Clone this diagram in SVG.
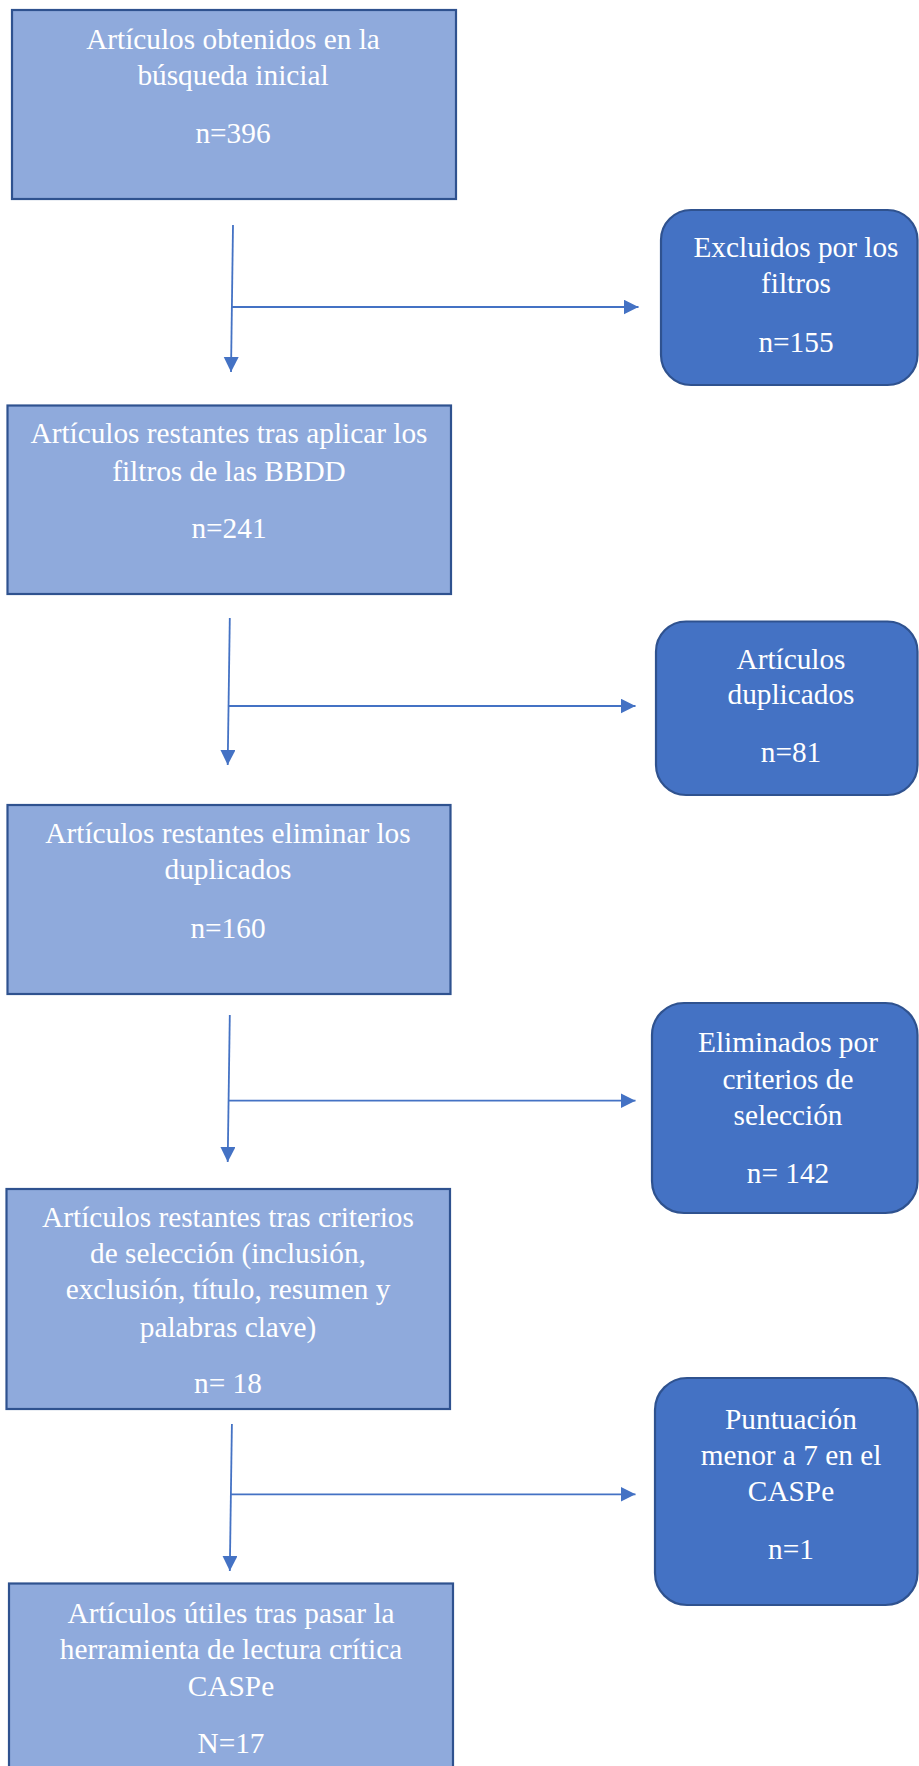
<svg xmlns="http://www.w3.org/2000/svg" width="919" height="1766" viewBox="0 0 919 1766">
<style>
.box{fill:#8FAADC;stroke:#2F528F;stroke-width:2.2}
.rbox{fill:#4472C4;stroke:#2F528F;stroke-width:2.2}
.t{font-family:"Liberation Serif","Times New Roman",serif;font-size:29.3px;fill:#FFFFFF;text-anchor:middle}
.c{stroke:#4472C4;stroke-width:1.8;fill:none}
</style>
<defs>
<marker id="ah" markerUnits="userSpaceOnUse" markerWidth="16" markerHeight="16" viewBox="0 0 16 16" refX="15" refY="7.5" orient="auto">
<path d="M0,0 L15,7.5 L0,15 z" fill="#4472C4"/>
</marker>
</defs>
<rect width="919" height="1766" fill="#FFFFFF"/>
<g id="connectors">
<line class="c" x1="233" y1="225" x2="231" y2="372" marker-end="url(#ah)"/>
<line class="c" x1="232" y1="307" x2="638.5" y2="307" marker-end="url(#ah)"/>
<line class="c" x1="229.8" y1="618" x2="227.7" y2="765" marker-end="url(#ah)"/>
<line class="c" x1="229" y1="706" x2="635.5" y2="706" marker-end="url(#ah)"/>
<line class="c" x1="229.8" y1="1015" x2="227.7" y2="1162" marker-end="url(#ah)"/>
<line class="c" x1="229" y1="1100.7" x2="635.5" y2="1100.7" marker-end="url(#ah)"/>
<line class="c" x1="231.9" y1="1424" x2="229.8" y2="1571" marker-end="url(#ah)"/>
<line class="c" x1="231" y1="1494.3" x2="635.5" y2="1494.3" marker-end="url(#ah)"/>
</g>
<g id="n1">
<rect class="box" x="12" y="10" width="444" height="189"/>
<text class="t" x="233" y="49">Artículos obtenidos en la</text>
<text class="t" x="233" y="85">búsqueda inicial</text>
<text class="t" x="233" y="143">n=396</text>
</g>
<g id="n2">
<rect class="rbox" x="661" y="210" width="256.5" height="175" rx="30" ry="30"/>
<text class="t" x="796" y="257">Excluidos por los</text>
<text class="t" x="796" y="293">filtros</text>
<text class="t" x="796" y="352">n=155</text>
</g>
<g id="n3">
<rect class="box" x="7.5" y="405.5" width="443.5" height="188.5"/>
<text class="t" x="229" y="443">Artículos restantes tras aplicar los</text>
<text class="t" x="229" y="481">filtros de las BBDD</text>
<text class="t" x="229" y="538">n=241</text>
</g>
<g id="n4">
<rect class="rbox" x="656" y="621.5" width="261.5" height="173.5" rx="30" ry="30"/>
<text class="t" x="791" y="669">Artículos</text>
<text class="t" x="791" y="704">duplicados</text>
<text class="t" x="791" y="762">n=81</text>
</g>
<g id="n5">
<rect class="box" x="7.5" y="805" width="443" height="189"/>
<text class="t" x="228" y="843">Artículos restantes eliminar los</text>
<text class="t" x="228" y="879">duplicados</text>
<text class="t" x="228" y="938">n=160</text>
</g>
<g id="n6">
<rect class="rbox" x="652" y="1003" width="265.5" height="210" rx="32" ry="32"/>
<text class="t" x="788" y="1052">Eliminados por</text>
<text class="t" x="788" y="1089">criterios de</text>
<text class="t" x="788" y="1125">selección</text>
<text class="t" x="788" y="1183">n= 142</text>
</g>
<g id="n7">
<rect class="box" x="6.5" y="1189" width="443.5" height="220"/>
<text class="t" x="228" y="1227">Artículos restantes tras criterios</text>
<text class="t" x="228" y="1263">de selección (inclusión,</text>
<text class="t" x="228" y="1299">exclusión, título, resumen y</text>
<text class="t" x="228" y="1337">palabras clave)</text>
<text class="t" x="228" y="1393">n= 18</text>
</g>
<g id="n8">
<rect class="rbox" x="655" y="1378" width="262.5" height="227" rx="32" ry="32"/>
<text class="t" x="791" y="1429">Puntuación</text>
<text class="t" x="791" y="1465">menor a 7 en el</text>
<text class="t" x="791" y="1501">CASPe</text>
<text class="t" x="791" y="1559">n=1</text>
</g>
<g id="n9">
<rect class="box" x="9" y="1583.5" width="444" height="200"/>
<text class="t" x="231" y="1623">Artículos útiles tras pasar la</text>
<text class="t" x="231" y="1659">herramienta de lectura crítica</text>
<text class="t" x="231" y="1696">CASPe</text>
<text class="t" x="231" y="1753">N=17</text>
</g>
</svg>
